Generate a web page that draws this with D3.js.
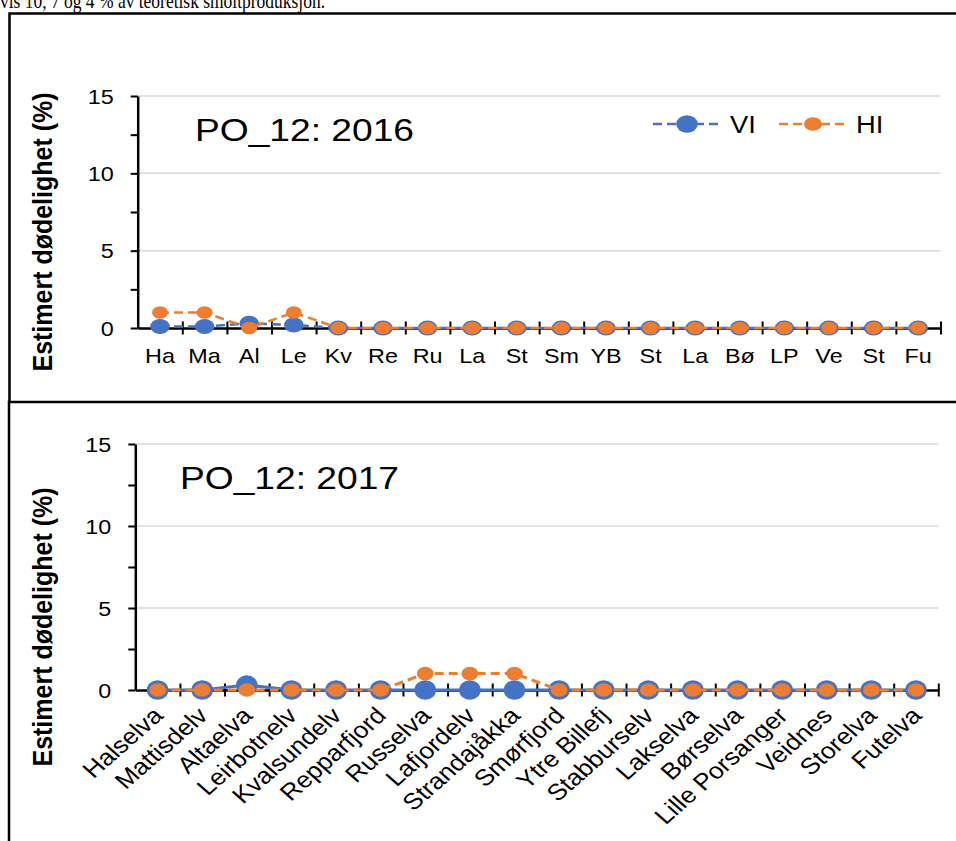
<!DOCTYPE html>
<html>
<head>
<meta charset="utf-8">
<script src="https://cdn.jsdelivr.net/npm/d3@7"></script>
<style>
  html, body { margin: 0; padding: 0; background: #fff; }
  svg { display: block; }
</style>
</head>
<body>
<svg id="chart" width="956" height="841"></svg>
<script>
// ---------------- DATA ----------------
const introText = "vis 10, 7 og 4 % av teoretisk smoltproduksjon.";
const seriesNames = ["VI", "HI"];
const panelTitles = ["PO_12: 2016", "PO_12: 2017"];
const yAxisTitle = "Estimert dødelighet (%)";
const shortNames = ["Ha","Ma","Al","Le","Kv","Re","Ru","La","St","Sm","YB","St","La","Bø","LP","Ve","St","Fu"];
const riverNames = ["Halselva","Mattisdelv","Altaelva","Leirbotnelv","Kvalsundelv","Repparfjord","Russelva",
  "Lafjordelv","Strandajåkka","Smørfjord","Ytre Billefj","Stabburselv","Lakselva","Børselva",
  "Lille Porsanger","Veidnes","Storelva","Futelva"];
const vi2016 = [0.1,0.1,0.3,0.2,0,0,0,0,0,0,0,0,0,0,0,0,0,0];
const hi2016 = [1,1,0,1,0,0,0,0,0,0,0,0,0,0,0,0,0,0];
const vi2017 = [0,0,0.3,0,0,0,0,0,0,0,0,0,0,0,0,0,0,0];
const hi2017 = [0,0,0,0,0,0,1,1,1,0,0,0,0,0,0,0,0,0];
const yLabelTicks = [0,5,10,15];
const yAllTicks = [0,2.5,5,7.5,10,12.5,15];

// ---------------- STYLE ----------------
const BLUE = "#4472C4", ORANGE = "#ED7D31";
const SX = 1.14; // horizontal stretch of the reference rendering
const SANS = "'Liberation Sans', Arial, sans-serif";

const svg = d3.select("#chart");

function stext(parent, x, y, str, o) {
  const t = parent.append("text")
    .attr("transform", `translate(${x},${y}) scale(${o.sx ?? SX},1)` + (o.rotate ? ` rotate(${o.rotate})` : ""))
    .attr("text-anchor", o.anchor || "start")
    .style("font-family", o.family || SANS)
    .style("font-size", o.size + "px")
    .style("font-weight", o.weight || "normal")
    .style("fill", o.fill || "#000")
    .text(str);
  return t;
}

// Intro text (cut at top, as in the reference)
svg.append("text").attr("x", 0).attr("y", 8)
  .attr("textLength", 325).attr("lengthAdjust", "spacingAndGlyphs")
  .style("font-family", "'Liberation Serif', 'Times New Roman', serif")
  .style("font-size", "21px").text(introText);

// Box borders
svg.append("path").attr("d", "M957,13.5H9.5V402").attr("fill", "none").attr("stroke", "#000").attr("stroke-width", 2.5);
svg.append("path").attr("d", "M957,402H9V842").attr("fill", "none").attr("stroke", "#000").attr("stroke-width", 2.5);

const panels = [
  { title: panelTitles[0], vi: vi2016, hi: hi2016, xl: 137.7, xr: 940.5, yTop: 96, yBot: 328,
    titleX: 195, titleY: 141, ytX: 52, ytY: 232, rotated: false, viDash: true,
    viR: [9.8, 7.5], hiR: [8, 6.3], lw: 2.5, legend: true },
  { title: panelTitles[1], vi: vi2017, hi: hi2017, xl: 135.3, xr: 938.3, yTop: 444, yBot: 690,
    titleX: 180, titleY: 489, ytX: 52, ytY: 627, rotated: true, viDash: false,
    viR: [10.8, 9.8], hiR: [8.4, 6.8], lw: 3, legend: false }
];

panels.forEach(p => {
  const g = svg.append("g");
  const y = d3.scaleLinear().domain([0, 15]).range([p.yBot, p.yTop]);
  const xb = d3.scaleBand().domain(d3.range(shortNames.length)).range([p.xl, p.xr]).padding(0);
  const xl = d3.scaleLinear().domain([0, shortNames.length]).range([p.xl, p.xr]);
  const cx = i => xb(i) + xb.bandwidth() / 2;

  // gridlines
  g.append("g").selectAll("line").data(yLabelTicks.filter(d => d > 0)).join("line")
    .attr("x1", p.xl).attr("x2", p.xr).attr("y1", d => y(d)).attr("y2", d => y(d))
    .attr("stroke", "#d9d9d9").attr("stroke-width", 1.5);

  // y axis
  const ya = g.append("g").attr("transform", `translate(${p.xl},0)`)
    .call(d3.axisLeft(y).tickValues(yAllTicks).tickSize(7).tickSizeOuter(0).tickFormat(""));
  ya.select(".domain").attr("stroke", "#000").attr("stroke-width", 2.5);
  ya.selectAll(".tick line").attr("stroke", "#000").attr("stroke-width", 2);
  yLabelTicks.forEach(v => stext(g, p.xl - 24, y(v) + 7.5, String(v), { size: 20.5, anchor: "end" }));

  // x axis
  const xa = g.append("g").attr("transform", `translate(0,${p.yBot})`)
    .call(d3.axisBottom(xl).tickValues(d3.range(1, shortNames.length + 1)).tickSizeOuter(0).tickFormat(""));
  xa.select(".domain").attr("stroke", "#000").attr("stroke-width", 2.5);
  xa.selectAll(".tick line").attr("y1", -6.5).attr("y2", 6.5).attr("stroke", "#000").attr("stroke-width", 2);

  // x labels
  if (!p.rotated) {
    shortNames.forEach((s, i) => stext(g, cx(i), p.yBot + 35, s, { size: 20.5, anchor: "middle" }));
  } else {
    riverNames.forEach((s, i) => stext(g, cx(i) + 7, p.yBot + 27, s, { size: 23, anchor: "end", rotate: -45 }));
  }

  // y axis title
  stext(g, p.ytX, p.ytY, yAxisTitle, { size: 25, anchor: "middle", weight: "bold", rotate: -90 });

  // panel title
  stext(g, p.titleX, p.titleY, p.title, { size: 31.5, sx: 1.18 });

  // series
  const line = d3.line().x((d, i) => cx(i)).y(d => y(d));
  g.append("path").datum(p.vi).attr("d", line).attr("fill", "none").attr("stroke", BLUE)
    .attr("stroke-width", p.lw).attr("stroke-dasharray", p.viDash ? "9,5" : null);
  g.append("g").selectAll("ellipse").data(p.vi).join("ellipse")
    .attr("cx", (d, i) => cx(i)).attr("cy", d => y(d)).attr("rx", p.viR[0]).attr("ry", p.viR[1]).attr("fill", BLUE);
  g.append("path").datum(p.hi).attr("d", line).attr("fill", "none").attr("stroke", ORANGE)
    .attr("stroke-width", p.lw).attr("stroke-dasharray", "9,5");
  g.append("g").selectAll("ellipse").data(p.hi).join("ellipse")
    .attr("cx", (d, i) => cx(i)).attr("cy", d => y(d)).attr("rx", p.hiR[0]).attr("ry", p.hiR[1]).attr("fill", ORANGE);

  // legend
  if (p.legend) {
    const items = [
      { name: seriesNames[0], color: BLUE, x0: 653, r: [10.8, 8.8] },
      { name: seriesNames[1], color: ORANGE, x0: 779, r: [9, 6.7] }
    ];
    const ly = 124;
    items.forEach(it => {
      g.append("line").attr("x1", it.x0).attr("x2", it.x0 + 70).attr("y1", ly).attr("y2", ly)
        .attr("stroke", it.color).attr("stroke-width", 2.5).attr("stroke-dasharray", "9,5");
      g.append("ellipse").attr("cx", it.x0 + 34).attr("cy", ly).attr("rx", it.r[0]).attr("ry", it.r[1]).attr("fill", it.color);
      stext(g, it.x0 + 77, ly + 9, it.name, { size: 24 });
    });
  }
});
</script>
</body>
</html>
